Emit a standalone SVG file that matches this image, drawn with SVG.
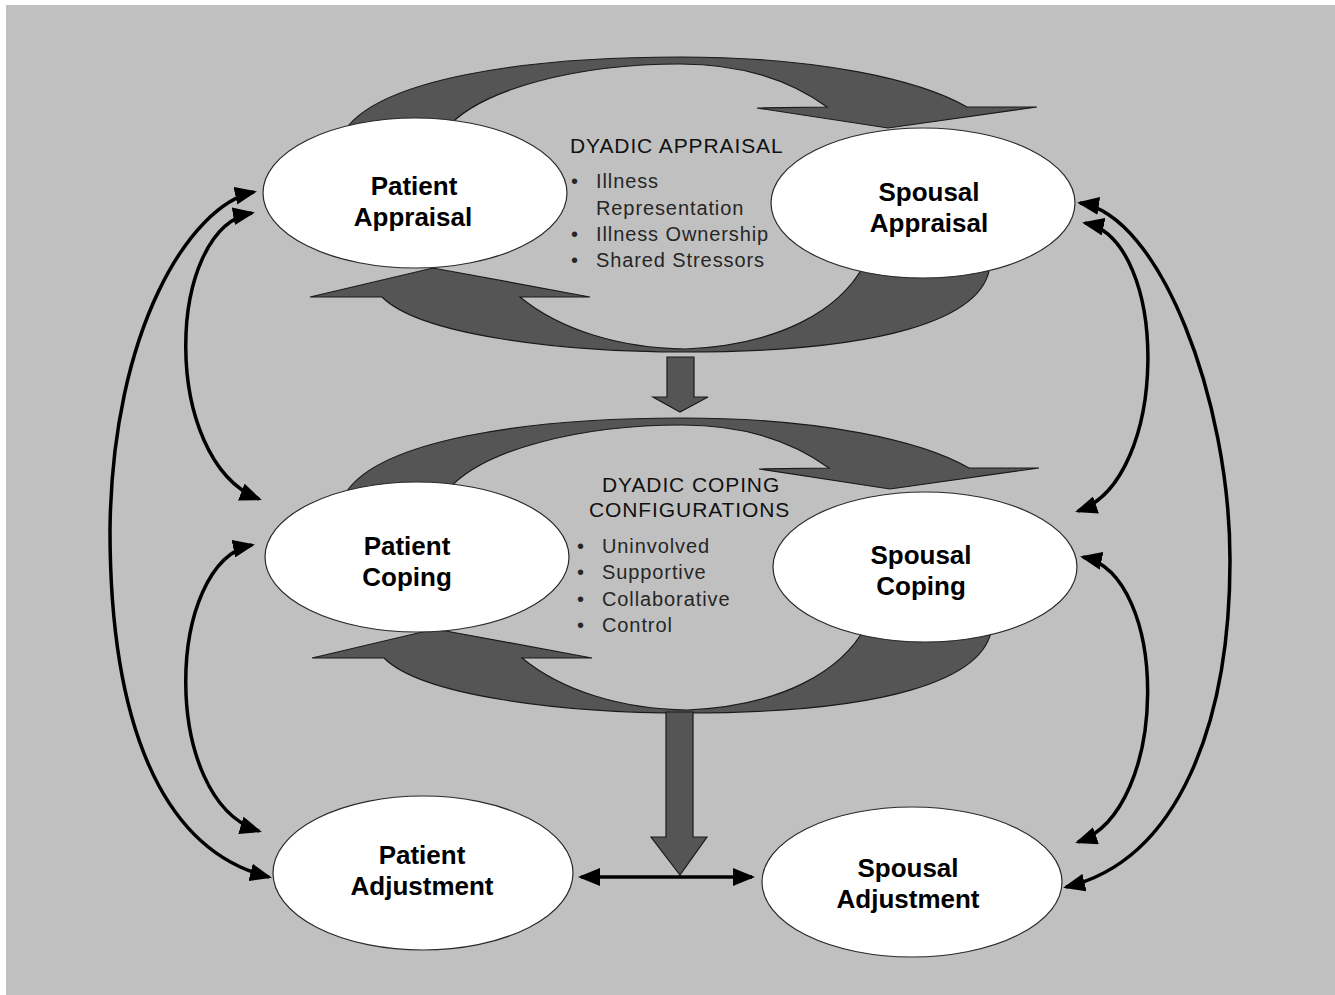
<svg xmlns="http://www.w3.org/2000/svg" width="1335" height="995" viewBox="0 0 1335 995">
<style>
.node ellipse{fill:#ffffff;stroke:#2a2a2a;stroke-width:1.2}
.lbl{font-family:"Liberation Sans",Arial,sans-serif;font-weight:bold;font-size:26px;fill:#000;text-anchor:middle}
.hd{font-family:"Liberation Sans",Arial,sans-serif;font-size:21px;letter-spacing:0.9px;fill:#111}
.bl{font-family:"Liberation Sans",Arial,sans-serif;font-size:20px;letter-spacing:0.9px;fill:#262626}
.big{fill:#555555;stroke:#1a1a1a;stroke-width:1.2;stroke-linejoin:miter}
.con{fill:none;stroke:#000;stroke-width:3.5}
</style>
<defs>
<marker id="ah" markerUnits="userSpaceOnUse" markerWidth="22" markerHeight="18" viewBox="0 0 22 18" refX="19" refY="9" orient="auto-start-reverse">
<path d="M0,0 L22,9 L0,18 Z" fill="#000"/>
</marker>
<g id="cycleTop">
<path class="big" d="M345,130 C380,80 520,57 680,57 C820,57 920,80 967,107 L1037,107 L888,128 L757,108 L827,107 C790,80 740,64 680,64 C580,64 480,88 445,130 Z"/>
</g>
<g id="cycleBot">
<path class="big" d="M990,265 C985,320 880,352 685,352 C560,352 420,335 382,297 L310,297 L433,268 L590,297 L520,297 C560,330 620,348 685,349 C780,345 840,310 864,265 Z"/>
</g>
</defs>
<rect x="0" y="0" width="1335" height="995" fill="#ffffff"/>
<rect x="6" y="5" width="1329" height="990" fill="#c0c0c0"/>

<g id="cycles">
<use href="#cycleTop"/>
<use href="#cycleBot"/>
<use href="#cycleTop" transform="translate(2,361)"/>
<use href="#cycleBot" transform="translate(2,361)"/>
<path class="big" d="M667,357 L694,357 L694,397 L708,397 L680,412 L653,397 L667,397 Z"/>
<path class="big" d="M666,712 L693,712 L693,837 L707,837 L680,875 L651,837 L666,837 Z"/>
</g>

<g id="connectors">
<path class="con" marker-start="url(#ah)" marker-end="url(#ah)" d="M254,192 C190,205 112,330 110,530 C110,720 160,850 269,877"/>
<path class="con" marker-start="url(#ah)" marker-end="url(#ah)" d="M252,213 C165,228 160,460 259,499"/>
<path class="con" marker-start="url(#ah)" marker-end="url(#ah)" d="M252,545 C165,562 160,800 259,831"/>
<path class="con" marker-start="url(#ah)" marker-end="url(#ah)" d="M1080,203 C1160,215 1230,400 1230,560 C1230,720 1180,860 1066,887"/>
<path class="con" marker-start="url(#ah)" marker-end="url(#ah)" d="M1085,223 C1170,240 1170,480 1078,511"/>
<path class="con" marker-start="url(#ah)" marker-end="url(#ah)" d="M1083,557 C1170,575 1170,810 1078,842"/>
<path class="con" marker-start="url(#ah)" marker-end="url(#ah)" d="M581,877 L752,877"/>
</g>

<g id="patient-appraisal" class="node">
<ellipse cx="415" cy="193" rx="152" ry="75"/>
<text class="lbl" x="414" y="195">Patient</text>
<text class="lbl" x="413" y="226">Appraisal</text>
</g>
<g id="spousal-appraisal" class="node">
<ellipse cx="923" cy="203" rx="152" ry="75"/>
<text class="lbl" x="929" y="201">Spousal</text>
<text class="lbl" x="929" y="232">Appraisal</text>
</g>
<g id="patient-coping" class="node">
<ellipse cx="417" cy="557" rx="152" ry="75"/>
<text class="lbl" x="407" y="555">Patient</text>
<text class="lbl" x="407" y="586">Coping</text>
</g>
<g id="spousal-coping" class="node">
<ellipse cx="925" cy="567" rx="152" ry="75"/>
<text class="lbl" x="921" y="564">Spousal</text>
<text class="lbl" x="921" y="595">Coping</text>
</g>
<g id="patient-adjustment" class="node">
<ellipse cx="423" cy="873" rx="150" ry="77"/>
<text class="lbl" x="422" y="864">Patient</text>
<text class="lbl" x="422" y="895">Adjustment</text>
</g>
<g id="spousal-adjustment" class="node">
<ellipse cx="912" cy="882" rx="150" ry="75"/>
<text class="lbl" x="908" y="877">Spousal</text>
<text class="lbl" x="908" y="908">Adjustment</text>
</g>

<g id="dyadic-appraisal">
<text class="hd" x="570" y="153">DYADIC APPRAISAL</text>
<text class="bl" x="571" y="188">•</text>
<text class="bl" x="596" y="188">Illness</text>
<text class="bl" x="596" y="215">Representation</text>
<text class="bl" x="571" y="241">•</text>
<text class="bl" x="596" y="241">Illness Ownership</text>
<text class="bl" x="571" y="267">•</text>
<text class="bl" x="596" y="267">Shared Stressors</text>
</g>
<g id="dyadic-coping">
<text class="hd" x="602" y="492">DYADIC COPING</text>
<text class="hd" x="589" y="517">CONFIGURATIONS</text>
<text class="bl" x="577" y="553">•</text>
<text class="bl" x="602" y="553">Uninvolved</text>
<text class="bl" x="577" y="579">•</text>
<text class="bl" x="602" y="579">Supportive</text>
<text class="bl" x="577" y="606">•</text>
<text class="bl" x="602" y="606">Collaborative</text>
<text class="bl" x="577" y="632">•</text>
<text class="bl" x="602" y="632">Control</text>
</g>
</svg>
